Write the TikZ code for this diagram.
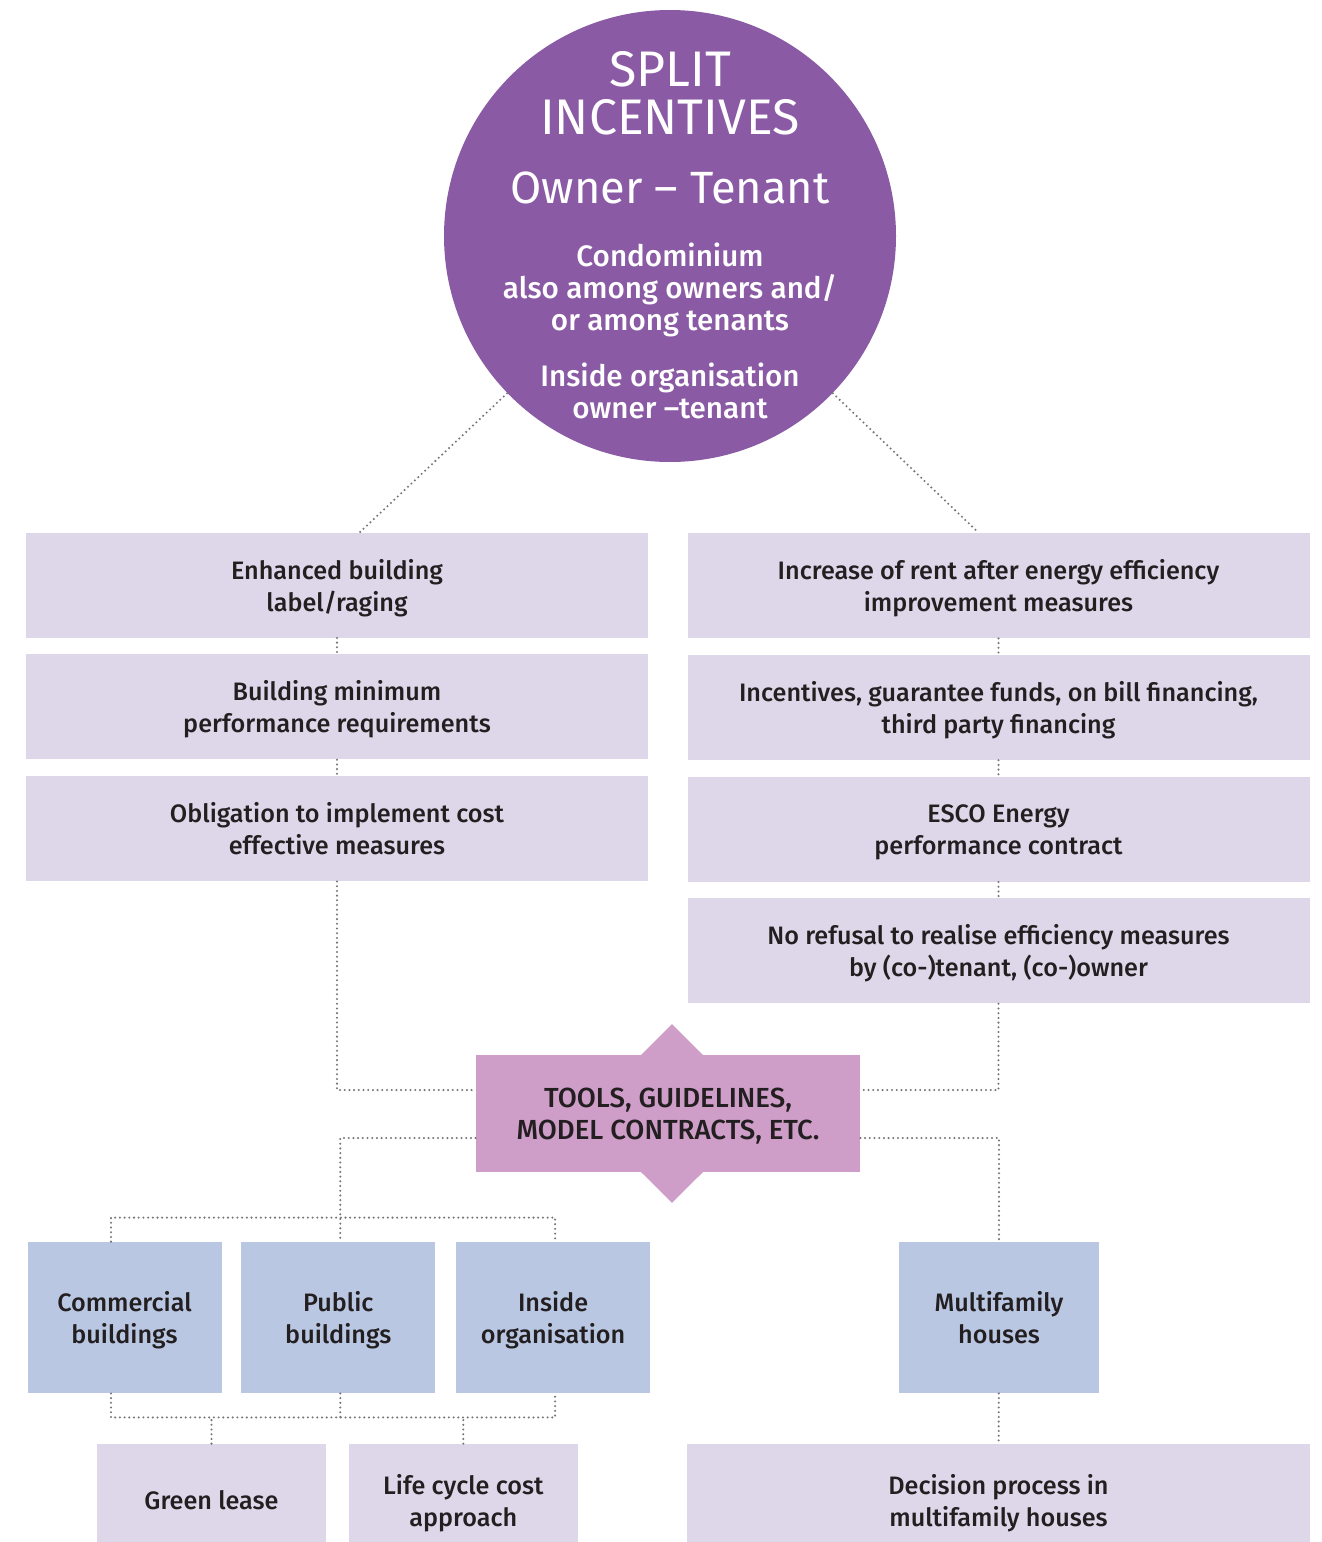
\documentclass[tikz,border=0pt]{standalone}
\usepackage{fontspec}
\setmainfont{Fira Sans Medium}
\newfontfamily\headfont{Fira Sans}
\usetikzlibrary{positioning,shapes.geometric}
\definecolor{splitpurple}{RGB}{138,90,165}
\definecolor{measurelilac}{RGB}{222,214,233}
\definecolor{toolpink}{RGB}{206,157,200}
\definecolor{sectorblue}{RGB}{185,199,227}
\definecolor{inkgray}{RGB}{35,31,32}
\definecolor{dotgray}{RGB}{118,118,118}
\newcommand{\boxfont}{\fontsize{12.6}{16}\selectfont}
\tikzset{
    %Define style for the big circle
    incentive/.style={
           circle,
           fill=splitpurple,
           minimum size=226pt,
           inner sep=0pt},
    circletext/.style={
           text=white,
           align=center,
           inner sep=0pt},
    %Define style for boxes
    measure/.style={
           rectangle,
           fill=measurelilac,
           minimum width=311pt,
           minimum height=52.5pt,
           inner sep=0pt,
           text depth=0pt,
           font=\boxfont,
           text=inkgray,
           align=center},
    sector/.style={
           rectangle,
           fill=sectorblue,
           minimum width=97pt,
           minimum height=75.5pt,
           inner sep=0pt,
           text depth=0pt,
           font=\boxfont,
           text=inkgray,
           align=center},
    approach/.style={
           measure,
           minimum width=114.5pt,
           minimum height=56pt},
    toolbox/.style={
           rectangle,
           fill=toolpink,
           minimum width=192pt,
           minimum height=58.5pt,
           inner sep=0pt,
           text depth=0pt,
           font=\fontsize{13.8}{16}\selectfont,
           text=inkgray,
           align=center},
    toolpoint/.style={
           diamond,
           fill=toolpink,
           minimum width=90pt,
           minimum height=89.5pt,
           inner sep=0pt},
    % Define connector style
    link/.style={
           draw=dotgray,
           line width=1.15pt,
           dash pattern=on 0pt off 2.35pt,
           line cap=round}
}

\begin{document}
\begin{tikzpicture}[x=0.5pt,y=-0.5pt,node distance=8pt]
\useasboundingbox (0,0) rectangle (1322,1542);

 %circle
\node[incentive] (split) at (670,236) {};
\node[circletext, font=\headfont\fontsize{25}{24}\selectfont] (title) at (670,93) {SPLIT\\INCENTIVES};
\node[circletext, font=\headfont\fontsize{22.6}{24}\selectfont, anchor=base] (pair) at (670,203) {Owner – Tenant};
\node[circletext, font=\fontsize{14.8}{16}\selectfont] (condo) at (670,290) {Condominium\\also among owners and/\\or among tenants};
\node[circletext, font=\fontsize{14.8}{16}\selectfont] (inside) at (670,391) {Inside organisation\\owner –tenant};

 %left column
\node[measure] (label) at (337,585) {Enhanced building\\label/raging};
\node[measure, below=of label] (minreq) {Building minimum\\performance requirements};
\node[measure, below=of minreq] (oblig) {Obligation to implement cost\\effective measures};

 %right column
\node[measure] (rent) at (998.5,585.5) {Increase of rent after energy efficiency\\improvement measures};
\node[measure, below=of rent] (finance) {Incentives, guarantee funds, on bill financing,\\third party financing};
\node[measure, below=of finance] (esco) {ESCO Energy\\performance contract};
\node[measure, below=of esco] (refusal) {No refusal to realise efficiency measures\\by (co-)tenant, (co-)owner};

 %tools
\node[toolpoint] (point) at (672,1113.5) {};
\node[toolbox] (tools) at (668,1113.5) {TOOLS, GUIDELINES,\\MODEL CONTRACTS, ETC.};

 %sectors
\node[sector] (commercial) at (124.5,1317.5) {Commercial\\buildings};
\node[sector, right=9.5pt of commercial] (public) {Public\\buildings};
\node[sector, right=10pt of public] (organisation) {Inside\\organisation};
\node[sector, minimum width=100pt] (multi) at (999,1317.5) {Multifamily\\houses};

 %approaches (cut by the lower edge)
\node[approach] (lease) at (211.5,1500) {Green lease};
\node[approach, right=11pt of lease] (lifecycle) {Life cycle cost\\approach};
\node[approach, minimum width=311.5pt] (decision) at (998.5,1500) {Decision process in\\multifamily houses};

 %connectors
\draw[link] (split.224) -- ([xshift=11.5pt]label.north);
\draw[link] (split.316) -- ([xshift=-10pt]rent.north);
\draw[link] (label) -- (minreq) -- (oblig);
\draw[link] (rent) -- (finance) -- (esco) -- (refusal);
\draw[link] (oblig.south) |- ([yshift=11.75pt]tools.west);
\draw[link] (refusal.south) |- ([yshift=11.75pt]tools.east);
\draw[link] ([yshift=-12.25pt]tools.west) -| ([xshift=1pt]public.north);
\draw[link] ([yshift=-12.25pt]tools.east) -| (multi.north);
\draw[link] ([xshift=-6.75pt]commercial.north) -- ++(0,-24) -| ([xshift=1pt]organisation.north);
\draw[link] ([xshift=-6.75pt]commercial.south) -- ++(0,24) -| ([xshift=1pt]organisation.south);
\draw[link] ([xshift=1pt]public.south) -- ++(0,24);
\draw[link] (lease.north) -- ++(0,-27);
\draw[link] (lifecycle.north) -- ++(0,-27);
\draw[link] (multi) -- (decision);
\end{tikzpicture}
\end{document}
